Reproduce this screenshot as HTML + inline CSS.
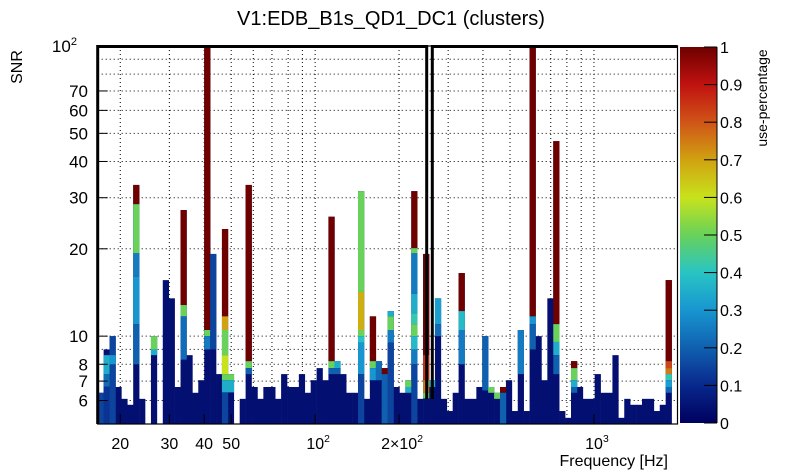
<!DOCTYPE html>
<html><head><meta charset="utf-8"><style>
html,body{margin:0;padding:0;background:#fff}
svg{display:block;font-family:"Liberation Sans",sans-serif}
</style></head><body>
<svg id="chart" width="805" height="472" viewBox="0 0 805 472" xmlns="http://www.w3.org/2000/svg">
<rect x="0" y="0" width="805" height="472" fill="#fff"/>
<text x="391" y="25" font-size="20" text-anchor="middle">V1:EDB_B1s_QD1_DC1 (clusters)</text>
<text transform="translate(22,67) rotate(-90)" font-size="16" text-anchor="middle">SNR</text>
<text x="668" y="466" font-size="16" text-anchor="end">Frequency [Hz]</text>
<text transform="translate(767,98) rotate(-90)" font-size="14" text-anchor="middle">use-percentage</text>
<g id="grid"></g><g id="cells"></g><g id="axes"></g><g id="cbar"></g>
</svg>
<script>
// ---- data ----
const binSNRmax = [6.38,9.0,10.0,6.68,6.08,5.8,33.2,6.08,0,10.0,0,15.6,13.5,6.68,27.2,8.6,6.38,7.05,100,19.2,7.4,23.4,7.4,0,6.08,33.2,6.68,6.08,6.68,6.68,6.08,7.4,6.68,6.68,7.4,6.38,7.05,7.76,7.05,25.8,8.2,7.4,6.38,6.38,31.6,6.08,11.7,8.2,7.76,12.2,6.68,6.38,7.05,31.6,6.08,19.2,7.05,13.5,6.08,5.52,6.38,16.5,6.08,6.08,6.68,10.0,6.68,6.38,6.68,7.05,5.52,10.5,5.52,100,10.0,7.05,13.5,47,5.52,5.23,8.2,6.68,6.08,6.08,7.4,6.38,6.38,8.6,5.23,6.08,5.8,5.8,6.08,6.08,5.52,5.8,15.6,0];
const segBin  = [0,1,1,1,2,2,6,6,6,6,6,9,9,14,14,14,18,18,18,19,21,21,21,21,21,21,21,22,22,25,25,25,39,39,39,40,40,44,44,44,44,44,44,46,46,46,47,48,48,49,49,49,49,52,52,53,53,53,53,53,53,53,53,53,55,55,55,55,56,57,57,61,61,61,65,66,67,68,68,71,73,73,73,77,77,77,77,80,80,80,80,96,96,96,96,96,96];
const segLow  = [5,5,6.7,7.4,5,8,28.5,19.3,16,11,8,8.6,9.0,12.8,11.7,8.3,10.5,10.0,9.0,9.0,11.7,10.5,8.6,7.4,7.05,6.4,5,6.4,7.05,8.2,7.76,7.4,8.2,7.76,7.4,7.76,7.4,14.2,10.5,10.0,9.5,7.4,5,8.2,7.76,7.05,7.05,7.4,5,11.7,10.5,9.5,5,6.68,6.38,20.1,19.3,14,12,11,10,9,8,5,8.6,7.05,6.38,6.1,6.68,11,10,12.2,10.5,8,6.5,6.38,6.08,6.38,5,7.4,11.7,11,9,11,9.55,8.6,7.4,7.76,7.05,6.68,6.38,8.2,7.76,7.4,7.05,6.68,6.38];
const segHigh = [6.38,6.7,7.4,8.6,10,8.6,33.2,28.5,19.3,16,11,9.0,10.0,27.2,12.8,11.7,100,10.5,10.0,19.2,23.4,11.7,10.5,8.6,7.4,7.05,6.4,7.05,7.4,33.2,8.2,7.76,25.8,8.2,7.76,8.2,7.76,31.6,14.2,10.5,10.0,9.5,7.4,11.7,8.2,7.76,8.2,7.76,7.4,12.2,11.7,10.5,9.5,7.05,6.68,31.6,20.1,19.3,14,12,11,10,9,8,19.2,8.6,7.05,6.38,7.05,13.5,11,16.5,12.2,10.5,10,6.68,6.38,6.68,6.38,10.5,100,11.7,11,100,11,9.55,8.6,8.2,7.76,7.05,6.68,15.6,8.2,7.76,7.4,7.05,6.68];
const segUse  = [0.15,0.12,0.22,0.35,0.15,0.3,1,0.5,0.25,0.3,0.2,0.35,0.5,1,0.5,0.22,1,0.5,0.25,0.15,1,0.7,0.5,0.6,0.5,0.35,0.15,0.35,0.5,1,0.5,0.2,1,0.5,0.2,0.35,0.2,0.5,0.68,0.5,0.4,0.3,0.15,1,0.5,0.3,0.22,1,0.2,0.35,0.5,0.25,0.15,0.5,0.35,1,0.5,0.25,0.35,0.42,0.5,0.38,0.25,0.15,1,0.85,0.75,0.5,0.35,0.32,0.22,1,0.38,0.25,0.2,0.5,0.5,1,0.2,0.25,1,0.3,0.2,1,0.5,0.35,0.2,1,0.5,0.35,0.2,1,0.82,0.75,0.42,0.32,0.22];
const xTickVals = [20,30,40,50,100,200,1000];
const xTickLabels = ["20","30","40","50","10^2","2×10^2","10^3"];
const xGridVals = [20,30,40,50,60,70,80,90,100,200,300,400,500,600,700,800,900,1000];
const yTickVals = [6,7,8,10,20,30,40,50,60,70,100];
const yTickLabels = ["6","7","8","10","20","30","40","50","60","70","10^2"];
const yGridVals = [6,7,8,9,10,20,30,40,50,60,70,80,90];
const cbTicks = [0,0.1,0.2,0.3,0.4,0.5,0.6,0.7,0.8,0.9,1];
const cbLabels = ["0","0.1","0.2","0.3","0.4","0.5","0.6","0.7","0.8","0.9","1"];

// ---- axes ----
const fMin=16.6,fMax=1994,nBins=binSNRmax.length;
const L=97.7,R=677.5,T=46,B=424;
const xOf=f=>L+(Math.log10(f)-Math.log10(fMin))/(Math.log10(fMax)-Math.log10(fMin))*(R-L);
const yMin=4.98,yMax=100;
const yOf=s=>B-(Math.log10(s)-Math.log10(yMin))/(Math.log10(yMax)-Math.log10(yMin))*(B-T);
const binEdge=i=>fMin*Math.pow(fMax/fMin,i/nBins);
const stops=[[0,[0,0,95]],[0.1,[8,40,140]],[0.2,[16,96,176]],[0.3,[24,150,208]],[0.4,[40,196,196]],[0.5,[104,210,90]],[0.6,[200,226,28]],[0.7,[208,162,16]],[0.8,[208,84,24]],[0.9,[192,18,16]],[1,[110,0,0]]];
function col(u){u=Math.max(0,Math.min(1,u));for(let k=1;k<stops.length;k++){if(u<=stops[k][0]){const a=stops[k-1],b=stops[k],t=(u-a[0])/(b[0]-a[0]);return 'rgb('+a[1].map((v,j)=>Math.round(v+(b[1][j]-v)*t)).join(',')+')';}}return 'rgb(110,0,0)';}
const NS='http://www.w3.org/2000/svg';
function mk(tag,attrs,parent){const e=document.createElementNS(NS,tag);for(const k in attrs)e.setAttribute(k,attrs[k]);parent.appendChild(e);return e;}
const grid=document.getElementById('grid'),cells=document.getElementById('cells'),axes=document.getElementById('axes'),cbar=document.getElementById('cbar');

xGridVals.forEach(v=>{const g=mk('line',{x1:xOf(v),x2:xOf(v),y1:T,y2:B,stroke:'#000','stroke-width':1,'stroke-dasharray':'1,3'},grid);

});
yGridVals.forEach(v=>{const g=mk('line',{x1:L,x2:R,y1:yOf(v),y2:yOf(v),stroke:'#000','stroke-width':1,'stroke-dasharray':'1,3'},grid);

});

binSNRmax.forEach((s,i)=>{ if(!s) return;
 const x0=xOf(binEdge(i)),x1=xOf(binEdge(i+1));
 const r=mk('rect',{x:x0,y:yOf(s),width:x1-x0+0.3,height:yOf(yMin)-yOf(s),fill:col(0.04)},cells);
 
 
});
segBin.forEach((b,k)=>{
 const top=Math.min(segHigh[k],binSNRmax[b]); if(top<=segLow[k]) return;
 const x0=xOf(binEdge(b)),x1=xOf(binEdge(b+1));
 const lo=Math.max(segLow[k],yMin);
 const r=mk('rect',{x:x0,y:yOf(top),width:x1-x0+0.3,height:yOf(lo)-yOf(top),fill:col(segUse[k])},cells);
 
 
});

// frame & cluster boxes
const fr=mk('rect',{x:L,y:T,width:R-L,height:B-T,fill:'none',stroke:'#000','stroke-width':1.2},axes);


const b1=mk('path',{d:`M${L} ${B} L${L} ${T+0.5} L426.7 ${T+0.5} L426.7 399`,fill:'none',stroke:'#000','stroke-width':3},axes);


const b2=mk('path',{d:`M432.3 399 L432.3 ${T+0.5} L${R} ${T+0.5}`,fill:'none',stroke:'#000','stroke-width':3},axes);



function label(parent,x,y,txt,anchor,size){
 const t=mk('text',{x:x,y:y,'font-size':size,'text-anchor':anchor},parent);
 const p=txt.split('^');
 t.appendChild(document.createTextNode(p[0]));
 if(p[1]){const s=mk('tspan',{dy:-7,'font-size':size*0.65},t);s.textContent=p[1];}
 return t;}
xTickVals.forEach((v,k)=>{const x=xOf(v);
 const tk=mk('line',{x1:x,x2:x,y1:B,y2:B-10,stroke:'#000'},axes);
 
 
 const sup=xTickLabels[k].includes('^');
 const t=label(axes,sup?x+3:x,449,xTickLabels[k],'middle',16);
 
 });
yTickVals.forEach((v,k)=>{const y=yOf(v);
 const tk=mk('line',{x1:L,x2:L+10,y1:y,y2:y,stroke:'#000'},axes);
 
 
 const sup=yTickLabels[k].includes('^');
 const t=label(axes,sup?77:88,y+6,yTickLabels[k],'end',17);
 
 });

// colorbar
const cx0=680,cx1=717,cy0=47,cy1=423;
const defs=mk('defs',{},cbar);const lg=mk('linearGradient',{id:'cg',x1:0,y1:1,x2:0,y2:0},defs);
for(let k=0;k<=50;k++){mk('stop',{offset:k/50,'stop-color':col(k/50)},lg);}
const cb=mk('rect',{x:cx0,y:cy0,width:cx1-cx0,height:cy1-cy0,fill:'url(#cg)'},cbar);


cbTicks.forEach((v,k)=>{const y=cy1-v*(cy1-cy0);
 const tk=mk('line',{x1:cx1-13,x2:cx1,y1:y,y2:y,stroke:'#000'},cbar);
 
 
 const t=mk('text',{x:720,y:y+6,'font-size':16},cbar);t.textContent=cbLabels[k];
 
 });
const cl=mk('line',{x1:cx1,x2:cx1,y1:cy0,y2:cy1,stroke:'#000'},cbar);


</script>
</body></html>
